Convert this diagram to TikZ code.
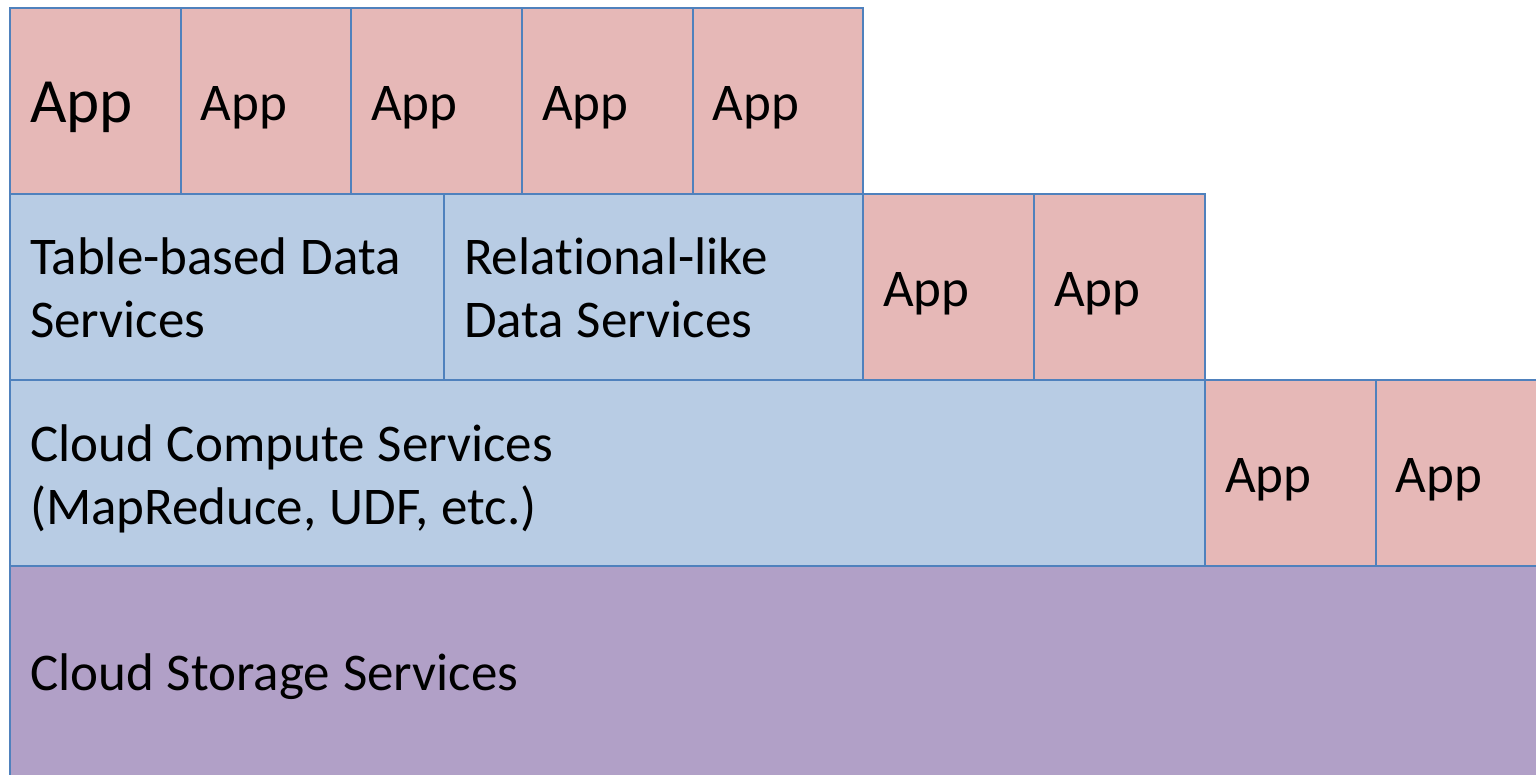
\documentclass[tikz,border=0pt]{standalone}
\usepackage{fontspec}
\setmainfont{Carlito}[RawFeature={-liga;-clig;-calt}]
\definecolor{apppink}{HTML}{E6B8B7}
\definecolor{svcblue}{HTML}{B8CCE4}
\definecolor{storepurple}{HTML}{B1A0C7}
\definecolor{edgeblue}{HTML}{4F81BD}
\begin{document}
\begin{tikzpicture}[x=1pt, y=-1pt,
    box/.style={draw=edgeblue, line width=2pt, anchor=north west, outer sep=0pt,
        inner xsep=20pt, inner ysep=0pt, text height=39pt, text depth=0pt,
        font=\fontsize{53}{63}\selectfont,
        execute at begin node={\spaceskip=13pt\relax}},
    twolines/.style={text depth=63pt},
    app/.style={box, fill=apppink, text width=130.5pt},
    svc/.style={box, fill=svcblue}]
    \clip (0,0) rectangle (1536,774);
    % storage layer
    \node[box, fill=storepurple, text width=1490pt, minimum height=212pt, text height=36pt] (storage) at (10,566) {Cloud Storage Services};
    % compute layer
    \node[svc, twolines, text width=1155pt, minimum height=186pt] (compute) at (10,380) {Cloud Compute Services\\(MapReduce, UDF, etc.)};
    \node[app, minimum height=186pt] (c1) at (1205,380) {App};
    \node[app, minimum height=186pt] (c2) at (1375.5,380) {App};
    % data services layer
    \node[svc, twolines, text width=394pt, minimum height=186.5pt] (table) at (10,193.5) {Table-based Data\\Services};
    \node[svc, twolines, text width=379pt, minimum height=186.5pt] (relational) at (444,193.5) {Relat\kern0pt ional-like\\Data Services};
    \node[app, minimum height=186.5pt] (d1) at (863,193.5) {App};
    \node[app, minimum height=186.5pt] (d2) at (1034,193.5) {App};
    % top apps
    \node[app, minimum height=185.5pt, text height=43pt, font=\fontsize{63}{70}\selectfont] (a1) at (10,8) {App};
    \node[app, minimum height=185.5pt] (a2) at (180.5,8) {App};
    \node[app, minimum height=185.5pt] (a3) at (351,8) {App};
    \node[app, minimum height=185.5pt] (a4) at (522,8) {App};
    \node[app, minimum height=185.5pt] (a5) at (692.5,8) {App};
\end{tikzpicture}
\end{document}
